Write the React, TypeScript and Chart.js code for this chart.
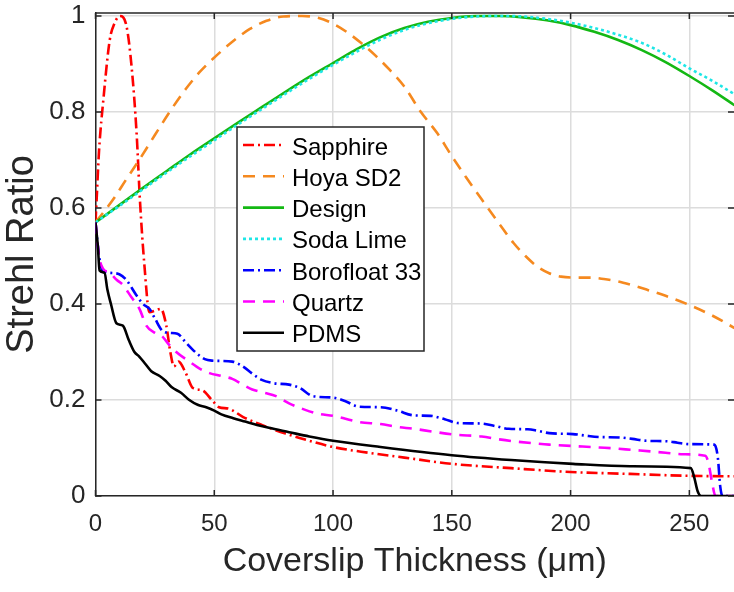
import React, { useEffect, useRef } from "react";
import { Chart, registerables } from "chart.js";

Chart.register(...registerables);

const FONT = '"Liberation Sans", Arial, Helvetica, sans-serif';

const xTicks = [0, 50, 100, 150, 200, 250];
const yTicks = [0, 0.2, 0.4, 0.6, 0.8, 1];
const xTitle = "Coverslip Thickness (\u03bcm)";
const yTitle = "Strehl Ratio";

const seriesNames = ["Sapphire", "Hoya SD2", "Design", "Soda Lime", "Borofloat 33", "Quartz", "PDMS"];

const sapphireX = [0, 0.5, 1.5, 3.3, 6, 8, 10.3, 13, 15.2, 17.3, 18.7, 20.6, 22.7, 25, 27.5, 29.8, 31.5, 33, 35, 38, 41, 45, 49, 52, 56, 62, 70, 80, 90, 100, 115, 130, 150, 175, 200, 225, 250, 269];
const sapphireY = [0.57, 0.62, 0.72, 0.825, 0.95, 0.985, 1.0, 0.98, 0.894, 0.756, 0.617, 0.48, 0.383, 0.386, 0.39, 0.355, 0.3, 0.27, 0.28, 0.256, 0.225, 0.22, 0.2, 0.185, 0.182, 0.165, 0.148, 0.13, 0.115, 0.102, 0.09, 0.08, 0.067, 0.058, 0.05, 0.046, 0.042, 0.041];

const hoyaX = [0, 4, 8, 13, 18, 25, 32, 38, 44, 51, 58, 65, 72, 79, 87, 94, 100, 106, 112, 118, 124, 130, 137, 144, 150, 156, 163, 170, 176, 181, 186, 191, 196, 202, 208, 214, 220, 226, 232, 240, 250, 260, 269];
const hoyaY = [0.57, 0.595, 0.622, 0.66, 0.697, 0.752, 0.806, 0.848, 0.884, 0.918, 0.948, 0.973, 0.99, 0.999, 1.0, 0.996, 0.984, 0.966, 0.943, 0.917, 0.887, 0.853, 0.8, 0.755, 0.708, 0.664, 0.615, 0.567, 0.527, 0.5, 0.478, 0.464, 0.457, 0.455, 0.455, 0.452, 0.447, 0.439, 0.43, 0.417, 0.398, 0.375, 0.35];

const designX = [0, 10, 20, 30, 40, 50, 60, 70, 80, 90, 100, 110, 120, 130, 140, 150, 160, 170, 180, 190, 200, 210, 220, 230, 240, 250, 260, 269];
const designY = [0.57, 0.606, 0.642, 0.677, 0.712, 0.745, 0.778, 0.81, 0.842, 0.873, 0.902, 0.931, 0.956, 0.975, 0.988, 0.996, 1.0, 1.0, 0.997, 0.991, 0.981, 0.967, 0.95, 0.929, 0.904, 0.875, 0.844, 0.814];

const sodaX = [0, 10, 20, 30, 40, 50, 60, 70, 80, 90, 100, 110, 120, 130, 140, 150, 160, 170, 180, 190, 200, 210, 220, 230, 240, 250, 260, 269];
const sodaY = [0.57, 0.604, 0.639, 0.674, 0.708, 0.741, 0.774, 0.806, 0.838, 0.869, 0.898, 0.926, 0.951, 0.971, 0.985, 0.994, 0.999, 1.0, 0.999, 0.994, 0.986, 0.975, 0.961, 0.944, 0.92, 0.891, 0.864, 0.837];

const boroX = [0, 1.5, 3, 6, 10, 13, 17, 20, 22.7, 25, 28, 31, 34.5, 38, 42, 46, 49, 57.6, 62, 66, 70, 75, 81.5, 86, 91.5, 100, 105, 111, 120, 127, 134, 141, 147, 152.5, 162.6, 168, 174, 182, 186, 191, 201, 206, 212, 220.6, 226, 232, 240.7, 245, 250, 260.5, 262, 263, 264, 269];
const boroY = [0.57, 0.5, 0.47, 0.465, 0.462, 0.45, 0.42, 0.4, 0.39, 0.37, 0.345, 0.34, 0.338, 0.32, 0.3, 0.285, 0.282, 0.28, 0.27, 0.255, 0.242, 0.235, 0.232, 0.225, 0.208, 0.205, 0.198, 0.186, 0.185, 0.178, 0.168, 0.167, 0.16, 0.152, 0.151, 0.146, 0.14, 0.139, 0.136, 0.131, 0.129, 0.126, 0.123, 0.122, 0.119, 0.115, 0.114, 0.111, 0.108, 0.107, 0.08, 0.02, 0.0, 0.0];

const quartzX = [0, 1.5, 3, 6, 9, 11.5, 15, 18.5, 21.4, 25, 28, 31, 34, 39.5, 44, 48, 53, 57.6, 62, 66, 71, 76, 81.5, 88, 94, 100, 106, 111, 120, 127, 134, 142, 151, 162.6, 170, 176, 184, 191, 205, 212, 219, 226, 233.6, 240, 247.5, 256.7, 258, 259.5, 261, 269];
const quartzY = [0.57, 0.5, 0.475, 0.465, 0.45, 0.44, 0.415, 0.39, 0.355, 0.34, 0.333, 0.315, 0.3, 0.28, 0.265, 0.256, 0.25, 0.244, 0.232, 0.222, 0.215, 0.208, 0.193, 0.18, 0.171, 0.167, 0.16, 0.154, 0.15, 0.144, 0.14, 0.134, 0.128, 0.124, 0.118, 0.114, 0.11, 0.107, 0.103, 0.101, 0.099, 0.096, 0.093, 0.09, 0.087, 0.084, 0.07, 0.03, 0.0, 0.0];

const pdmsX = [0, 1, 1.7, 3.8, 5, 6.5, 8.8, 11.5, 14, 16.4, 18.5, 21, 23.5, 27, 29.5, 32, 36, 39.5, 43, 46.6, 50, 53, 58, 63, 68, 73, 81.5, 90, 100, 120, 150, 175, 201, 225, 250.6, 252, 253.5, 255, 269];
const pdmsY = [0.57, 0.52, 0.47, 0.465, 0.43, 0.4, 0.36, 0.355, 0.325, 0.3, 0.29, 0.275, 0.26, 0.25, 0.24, 0.227, 0.215, 0.2, 0.19, 0.185, 0.178, 0.17, 0.162, 0.155, 0.148, 0.142, 0.133, 0.124, 0.115, 0.102, 0.085, 0.075, 0.067, 0.062, 0.058, 0.04, 0.01, 0.0, 0.0];

const seriesColors = ["#ff0000", "#f5891f", "#14b814", "#1ee6e6", "#0000ff", "#ff00ff", "#000000"];
const seriesDashes = [[11, 4, 2, 4], [12, 8], [], [3, 3], [11, 4, 2, 4], [12, 8], []];

const AX = "#262626";

const framePlugin = {
  id: "frameAndLegend",
  afterDatasetsDraw(chart: any) {
    const { ctx, chartArea } = chart;
    const { left, right, top, bottom } = chartArea;
    const xs = chart.scales.x;
    const ys = chart.scales.y;
    ctx.save();
    // top border
    ctx.strokeStyle = AX;
    ctx.lineWidth = 1.5;
    ctx.setLineDash([]);
    ctx.beginPath();
    ctx.moveTo(left, top);
    ctx.lineTo(right, top);
    ctx.stroke();
    // inward ticks
    const tl = 6;
    ctx.beginPath();
    xTicks.forEach((v) => {
      const px = xs.getPixelForValue(v);
      ctx.moveTo(px, bottom);
      ctx.lineTo(px, bottom - tl);
      ctx.moveTo(px, top);
      ctx.lineTo(px, top + tl);
    });
    yTicks.forEach((v) => {
      const py = ys.getPixelForValue(v);
      ctx.moveTo(left, py);
      ctx.lineTo(left + tl, py);
      ctx.moveTo(right, py);
      ctx.lineTo(right - tl, py);
    });
    ctx.stroke();

    // legend box
    const lx = 237, ly = 127, lw = 187, lh = 224;
    ctx.fillStyle = "#ffffff";
    ctx.fillRect(lx, ly, lw, lh);
    ctx.strokeStyle = AX;
    ctx.lineWidth = 1.5;
    ctx.strokeRect(lx, ly, lw, lh);
    chart.data.datasets.forEach((ds: any, i: number) => {
      const cy = 145 + i * 31.3;
      ctx.setLineDash(ds.borderDash || []);
      ctx.strokeStyle = ds.borderColor;
      ctx.lineWidth = ds.borderWidth;
      ctx.beginPath();
      ctx.moveTo(243, cy);
      ctx.lineTo(284, cy);
      ctx.stroke();
      ctx.setLineDash([]);
      ctx.fillStyle = "#000000";
      ctx.font = `24px ${FONT}`;
      ctx.textBaseline = "alphabetic";
      ctx.textAlign = "left";
      ctx.fillText(ds.label, 292, cy + 9.5);
    });
    ctx.restore();
  },
};

export default function App() {
  const ref = useRef<HTMLCanvasElement>(null);
  useEffect(() => {
    const pts = (xs: number[], ys: number[]) => xs.map((x, i) => ({ x, y: ys[i] }));
    const series = [
      pts(sapphireX, sapphireY),
      pts(hoyaX, hoyaY),
      pts(designX, designY),
      pts(sodaX, sodaY),
      pts(boroX, boroY),
      pts(quartzX, quartzY),
      pts(pdmsX, pdmsY),
    ];
    const datasets = series.map((data, i) => ({
      label: seriesNames[i],
      data,
      borderColor: seriesColors[i],
      backgroundColor: seriesColors[i],
      borderWidth: 2.6,
      borderDash: seriesDashes[i],
      pointRadius: 0,
      fill: false,
      cubicInterpolationMode: "monotone" as const,
      order: seriesNames.length - i,
    }));
    const chart = new Chart(ref.current as HTMLCanvasElement, {
      type: "line",
      data: { datasets },
      plugins: [framePlugin],
      options: {
        animation: false,
        responsive: false,
        maintainAspectRatio: false,
        layout: { padding: { top: 13, left: 0, right: 0, bottom: 0 } },
        plugins: { legend: { display: false }, tooltip: { enabled: false } },
        scales: {
          x: {
            type: "linear",
            min: 0,
            max: 268.8,
            afterBuildTicks: (s: any) => {
              s.ticks = xTicks.map((v) => ({ value: v }));
            },
            afterFit: (s: any) => {
              s.height = 96;
              s.paddingLeft = 0;
              s.paddingRight = 0;
            },
            grid: { color: "#dcdcdc", lineWidth: 1.5, drawTicks: false },
            border: { color: AX, width: 1.5 },
            ticks: {
              padding: 14,
              maxRotation: 0,
              autoSkip: false,
              color: AX,
              font: { family: FONT, size: 24 },
            },
            title: {
              display: true,
              text: xTitle,
              color: AX,
              font: { family: FONT, size: 34 },
              padding: { top: 0, bottom: 10 },
            },
          },
          y: {
            type: "linear",
            min: 0,
            max: 1.00625,
            afterBuildTicks: (s: any) => {
              s.ticks = yTicks.map((v) => ({ value: v }));
            },
            afterFit: (s: any) => {
              s.width = 95.5;
              s.paddingTop = 0;
              s.paddingBottom = 0;
            },
            grid: { color: "#dcdcdc", lineWidth: 1.5, drawTicks: false },
            border: { color: AX, width: 1.5 },
            ticks: {
              padding: 10,
              color: AX,
              font: { family: FONT, size: 26 },
              callback: (v: any) => String(Math.round(Number(v) * 10) / 10),
            },
            title: {
              display: true,
              text: yTitle,
              color: AX,
              font: { family: FONT, size: 38 },
              padding: { top: 0, bottom: 0 },
            },
          },
        },
      },
    });
    return () => chart.destroy();
  }, []);
  return (
    <div style={{ position: "fixed", left: 0, top: 0, width: 734, height: 592, background: "#ffffff" }}>
      <canvas ref={ref} width={734} height={592} style={{ display: "block", width: 734, height: 592 }} />
    </div>
  );
}
